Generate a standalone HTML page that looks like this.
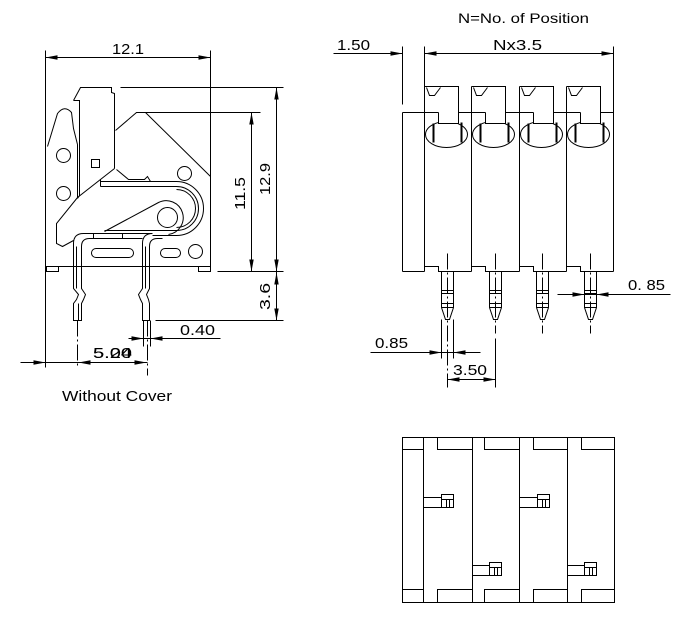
<!DOCTYPE html>
<html><head><meta charset="utf-8"><style>
html,body{margin:0;padding:0;background:#fff;}
svg{display:block;}
text{font-family:"Liberation Sans",Arial,sans-serif;font-size:15px;fill:#000;stroke:none;}
</style></head><body>
<svg width="679" height="619" viewBox="0 0 679 619" xmlns="http://www.w3.org/2000/svg">
<defs>
<path id="ar" d="M0,0 L-12,-2.2 L-12,2.2 Z" fill="#000" stroke="none"/>
</defs>
<rect width="679" height="619" fill="#fff"/>
<g transform="translate(0.5,0.5)" stroke="#000" stroke-width="1" fill="none">

<!-- ===== LEFT VIEW ===== -->
<line x1="45" y1="50" x2="45" y2="367"/>
<line x1="210" y1="50" x2="210" y2="271"/>
<line x1="45" y1="57" x2="210" y2="57"/>
<use href="#ar" transform="translate(45,57) rotate(180)"/>
<use href="#ar" transform="translate(210,57)"/>

<line x1="120" y1="87" x2="283" y2="87"/>
<line x1="136" y1="112" x2="260" y2="112"/>
<line x1="217" y1="271" x2="283" y2="271"/>
<line x1="155" y1="320" x2="283" y2="320"/>
<line x1="276" y1="87" x2="276" y2="320"/>
<line x1="251" y1="112" x2="251" y2="271"/>
<use href="#ar" transform="translate(276,87) rotate(-90)"/>
<use href="#ar" transform="translate(276,271) rotate(90)"/>
<use href="#ar" transform="translate(276,272) rotate(-90)"/>
<use href="#ar" transform="translate(276,320) rotate(90)"/>
<use href="#ar" transform="translate(251,112) rotate(-90)"/>
<use href="#ar" transform="translate(251,271) rotate(90)"/>

<path d="M73,100 L80,87 L111,87 L111,92 L114,93 L114,168"/>
<path d="M73,100 L79,100 L79,195 L77,198"/>
<path d="M77,144 L77,197"/>
<path d="M47,146 L57,113 Q64,104 71,112 L73,128 L77,144"/>
<path d="M115,130 L136,112 L145,112 L210,176"/>
<path d="M114,168 L77,197 L56,223 L56,243 L62,246 L73,240"/>
<path d="M116,169 L128,179 L144,179 L147,176 L150,181"/>
<circle cx="63" cy="155" r="7"/>
<circle cx="63" cy="193" r="7"/>
<rect x="91" y="159" width="8" height="8"/>
<circle cx="184" cy="173" r="7"/>

<path d="M100,179 L100,186"/>
<path d="M100,181 L176,181 A27,27 0 0 1 176,235 L152,235"/>
<path d="M100,186 L176,186 A22,22 0 0 1 176,230 L104,230"/>
<path d="M176,189 A19,19 0 0 1 176,227"/>
<path d="M104,231 L158,202 A17,17 0 1 1 168,234"/>
<circle cx="167" cy="217" r="10"/>

<path d="M152,233 L83,233 Q73,233 73,243 L73,288 L78,294 L76,299 L73,303 L73,320 L81,320 L81,303 L83,299 L85,294 L81,288 L81,246 Q81,238 89,238 L142,238"/>
<line x1="76" y1="246" x2="76" y2="288"/>
<line x1="78" y1="303" x2="78" y2="320"/>
<line x1="93" y1="233" x2="93" y2="238"/>
<line x1="122" y1="233" x2="122" y2="238"/>
<path d="M152,233 Q142,233 142,243 L142,288 L138,294 L140,299 L142,303 L142,320 L149,320 L149,303 L148,299 L146,294 L149,288 L149,246 Q149,238 157,238 L162,238"/>
<line x1="145" y1="246" x2="145" y2="288"/>

<line x1="45" y1="266" x2="210" y2="266"/>
<rect x="46" y="266" width="12" height="5"/>
<rect x="198" y="266" width="12" height="5"/>
<rect x="91" y="248" width="42" height="9" rx="4.5"/>
<rect x="160" y="248" width="20" height="9" rx="4.5"/>
<circle cx="195" cy="251" r="7"/>

<line x1="143" y1="320" x2="143" y2="346"/>
<line x1="150" y1="320" x2="150" y2="346"/>
<line x1="128" y1="338" x2="220" y2="338"/>
<use href="#ar" transform="translate(143,338)"/>
<use href="#ar" transform="translate(150,338) rotate(180)"/>

<line x1="77" y1="320" x2="77" y2="367" stroke-dasharray="16,3,2,3"/>
<line x1="147" y1="320" x2="147" y2="375" stroke-dasharray="16,3,2,3"/>
<line x1="20" y1="362" x2="147" y2="362"/>
<use href="#ar" transform="translate(45,362)"/>
<use href="#ar" transform="translate(78,362) rotate(180)"/>
<use href="#ar" transform="translate(146,362)"/>

<!-- ===== RIGHT TOP VIEW ===== -->
<line x1="333" y1="53" x2="402" y2="53"/>
<use href="#ar" transform="translate(402,53)"/>
<line x1="424" y1="53" x2="613" y2="53"/>
<use href="#ar" transform="translate(424,53) rotate(180)"/>
<use href="#ar" transform="translate(613,53)"/>
<line x1="402" y1="46" x2="402" y2="104"/>
<line x1="424" y1="46" x2="424" y2="271"/>
<line x1="613" y1="46" x2="613" y2="271"/>
<line x1="402" y1="112" x2="402" y2="271"/>
<line x1="471" y1="86" x2="471" y2="271"/>
<line x1="519" y1="86" x2="519" y2="271"/>
<line x1="566" y1="86" x2="566" y2="271"/>

<ellipse cx="446" cy="134" rx="21" ry="13"/>
<ellipse cx="493" cy="134" rx="21" ry="13"/>
<ellipse cx="541" cy="134" rx="21" ry="13"/>
<ellipse cx="588" cy="134" rx="21" ry="13"/>
<g fill="#fff" stroke="none">
<rect x="438" y="112" width="20" height="11"/>
<rect x="485" y="112" width="20" height="11"/>
<rect x="533" y="112" width="20" height="11"/>
<rect x="580" y="112" width="20" height="11"/>
</g>
<g stroke-width="2">
<line x1="433" y1="123" x2="433" y2="142"/><line x1="461" y1="122" x2="461" y2="142"/>
<line x1="480" y1="123" x2="480" y2="142"/><line x1="508" y1="122" x2="508" y2="142"/>
<line x1="528" y1="123" x2="528" y2="142"/><line x1="556" y1="122" x2="556" y2="142"/>
<line x1="575" y1="123" x2="575" y2="142"/><line x1="603" y1="122" x2="603" y2="142"/>
</g>

<polyline points="424,86 458,86 458,123 438,123 438,112"/>
<polyline points="471,86 505,86 505,123 485,123 485,112"/>
<polyline points="519,86 553,86 553,123 533,123 533,112"/>
<polyline points="566,86 600,86 600,123 580,123 580,112"/>
<polyline points="426,87 429,95 434,95 440,87"/>
<polyline points="473,87 476,95 481,95 487,87"/>
<polyline points="521,87 524,95 529,95 535,87"/>
<polyline points="568,87 571,95 576,95 582,87"/>
<line x1="402" y1="112" x2="438" y2="112"/>
<line x1="458" y1="112" x2="485" y2="112"/>
<line x1="505" y1="112" x2="533" y2="112"/>
<line x1="553" y1="112" x2="580" y2="112"/>
<line x1="600" y1="112" x2="613" y2="112"/>

<line x1="402" y1="271" x2="424" y2="271"/>
<polyline points="424,266 438,266 438,271 471,271"/>
<polyline points="471,266 485,266 485,271 519,271"/>
<polyline points="519,266 533,266 533,271 566,271"/>
<polyline points="566,266 580,266 580,271 613,271"/>

<g>
<path d="M441,271 L441,307 L445,319 L449,319 L453,307 L453,271"/>
<line x1="441" y1="290" x2="453" y2="290"/><line x1="441" y1="293" x2="453" y2="293"/>
<line x1="441" y1="303" x2="453" y2="303"/><line x1="441" y1="307" x2="453" y2="307"/>
<path d="M489,271 L489,307 L493,319 L497,319 L501,307 L501,271"/>
<line x1="489" y1="290" x2="501" y2="290"/><line x1="489" y1="293" x2="501" y2="293"/>
<line x1="489" y1="303" x2="501" y2="303"/><line x1="489" y1="307" x2="501" y2="307"/>
<path d="M536,271 L536,307 L540,319 L544,319 L548,307 L548,271"/>
<line x1="536" y1="290" x2="548" y2="290"/><line x1="536" y1="293" x2="548" y2="293"/>
<line x1="536" y1="303" x2="548" y2="303"/><line x1="536" y1="307" x2="548" y2="307"/>
<path d="M584,271 L584,307 L588,319 L592,319 L596,307 L596,271"/>
<line x1="584" y1="290" x2="596" y2="290"/><line x1="584" y1="293" x2="596" y2="293"/>
<line x1="584" y1="303" x2="596" y2="303"/><line x1="584" y1="307" x2="596" y2="307"/>
</g>
<g stroke-dasharray="16,3,2,3">
<line x1="447" y1="253" x2="447" y2="387"/>
<line x1="495" y1="253" x2="495" y2="333"/>
<line x1="542" y1="253" x2="542" y2="333"/>
<line x1="590" y1="253" x2="590" y2="333"/>
</g>
<line x1="495" y1="338" x2="495" y2="387"/>

<line x1="557" y1="294" x2="670" y2="294"/>
<use href="#ar" transform="translate(584,294)"/>
<use href="#ar" transform="translate(596,294) rotate(180)"/>
<line x1="441" y1="319" x2="441" y2="358"/>
<line x1="453" y1="319" x2="453" y2="358"/>
<line x1="370" y1="352" x2="480" y2="352"/>
<use href="#ar" transform="translate(441,352)"/>
<use href="#ar" transform="translate(453,352) rotate(180)"/>
<line x1="447" y1="379" x2="495" y2="379"/>
<use href="#ar" transform="translate(447,379) rotate(180)"/>
<use href="#ar" transform="translate(495,379)"/>

<!-- ===== BOTTOM VIEW ===== -->
<rect x="402" y="437" width="212" height="165"/>
<line x1="423" y1="437" x2="423" y2="602"/>
<line x1="472" y1="437" x2="472" y2="602"/>
<line x1="519" y1="437" x2="519" y2="602"/>
<line x1="567" y1="437" x2="567" y2="602"/>
<line x1="402" y1="449" x2="423" y2="449"/>
<line x1="402" y1="589" x2="423" y2="589"/>
<polyline points="437,437 437,449 472,449"/>
<polyline points="484,437 484,449 519,449"/>
<polyline points="533,437 533,449 567,449"/>
<polyline points="581,437 581,449 614,449"/>
<polyline points="437,602 437,589 472,589"/>
<polyline points="484,602 484,589 519,589"/>
<polyline points="533,602 533,589 567,589"/>
<polyline points="581,602 581,589 614,589"/>

<g>
<line x1="423" y1="497" x2="441" y2="497"/><line x1="423" y1="507" x2="453" y2="507"/>
<rect x="441" y="494" width="12" height="13"/><line x1="441" y1="499" x2="453" y2="499"/>
<line x1="446" y1="499" x2="446" y2="507"/><line x1="449" y1="499" x2="449" y2="507"/>

<line x1="519" y1="497" x2="537" y2="497"/><line x1="519" y1="507" x2="549" y2="507"/>
<rect x="537" y="494" width="12" height="13"/><line x1="537" y1="499" x2="549" y2="499"/>
<line x1="542" y1="499" x2="542" y2="507"/><line x1="545" y1="499" x2="545" y2="507"/>

<line x1="472" y1="565" x2="489" y2="565"/><line x1="472" y1="575" x2="501" y2="575"/>
<rect x="489" y="562" width="12" height="13"/><line x1="489" y1="567" x2="501" y2="567"/>
<line x1="494" y1="567" x2="494" y2="575"/><line x1="497" y1="567" x2="497" y2="575"/>

<line x1="567" y1="565" x2="584" y2="565"/><line x1="567" y1="575" x2="596" y2="575"/>
<rect x="584" y="562" width="12" height="13"/><line x1="584" y1="567" x2="596" y2="567"/>
<line x1="589" y1="567" x2="589" y2="575"/><line x1="592" y1="567" x2="592" y2="575"/>
</g>
</g>

<text x="112" y="54" textLength="32" lengthAdjust="spacingAndGlyphs">12.1</text>
<text transform="translate(245,210) rotate(-90)" textLength="33" lengthAdjust="spacingAndGlyphs">11.5</text>
<text transform="translate(270,195) rotate(-90)" textLength="32" lengthAdjust="spacingAndGlyphs">12.9</text>
<text transform="translate(270,310) rotate(-90)" textLength="27" lengthAdjust="spacingAndGlyphs">3.6</text>
<text x="180" y="335" textLength="35" lengthAdjust="spacingAndGlyphs">0.40</text>
<text x="93" y="358" textLength="39" lengthAdjust="spacingAndGlyphs">5.20</text>
<text x="93" y="358" textLength="39" lengthAdjust="spacingAndGlyphs">5.04</text>
<text x="62" y="401" textLength="110" lengthAdjust="spacingAndGlyphs">Without Cover</text>
<text x="458" y="23" style="font-size:14px" textLength="131" lengthAdjust="spacingAndGlyphs">N=No. of Position</text>
<text x="337" y="50" textLength="33" lengthAdjust="spacingAndGlyphs">1.50</text>
<text x="493" y="50" textLength="49" lengthAdjust="spacingAndGlyphs">Nx3.5</text>
<text x="628" y="290" textLength="37" lengthAdjust="spacingAndGlyphs">0. 85</text>
<text x="375" y="348" textLength="33" lengthAdjust="spacingAndGlyphs">0.85</text>
<text x="453" y="375" textLength="34" lengthAdjust="spacingAndGlyphs">3.50</text>
</svg>
</body></html>
